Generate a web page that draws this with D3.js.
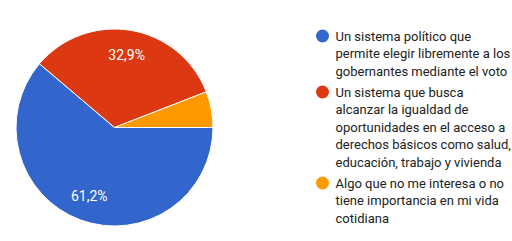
<!DOCTYPE html>
<html>
<head>
<meta charset="utf-8">
<script src="https://cdn.jsdelivr.net/npm/d3@7"></script>
<style>
  body { margin: 0; background: #fff; }
  text { font-family: Roboto, Arial, sans-serif; }
</style>
</head>
<body>
<div id="chart"></div>
<script>
  const labels = [
    ["Un sistema político que", "permite elegir libremente a los", "gobernantes mediante el voto"],
    ["Un sistema que busca", "alcanzar la igualdad de", "oportunidades en el acceso a", "derechos básicos como salud,", "educación, trabajo y vivienda"],
    ["Algo que no me interesa o no", "tiene importancia en mi vida", "cotidiana"]
  ];
  const values = [61.2, 32.9, 5.9];
  const colors = ["#3366cc", "#dc3912", "#ff9900"];

  const width = 512, height = 241;
  const cx = 114.5, cy = 127.5, radius = 98.5;

  const svg = d3.select("#chart")
    .append("svg")
    .attr("width", width)
    .attr("height", height);

  const pie = d3.pie()
    .sort(null)
    .startAngle(Math.PI / 2)
    .endAngle(Math.PI / 2 + Math.PI * 2)
    .value(d => d);

  const arc = d3.arc().innerRadius(0).outerRadius(radius);
  const labelArc = d3.arc().innerRadius(radius * 0.745).outerRadius(radius * 0.745);

  const g = svg.append("g").attr("transform", `translate(${cx},${cy})`);
  const arcs = pie(values);

  g.selectAll("path")
    .data(arcs)
    .enter()
    .append("path")
    .attr("d", arc)
    .attr("fill", (d, i) => colors[i])
    .attr("stroke", "#fff")
    .attr("stroke-width", 1);

  // percent labels, skip the small slice
  g.selectAll("text.pct")
    .data(arcs.filter(d => d.value > 10))
    .enter()
    .append("text")
    .attr("class", "pct")
    .attr("transform", d => `translate(${labelArc.centroid(d)})`)
    .attr("text-anchor", "middle")
    .attr("dy", "0.35em")
    .attr("fill", "#fff")
    .style("font-size", "14px")
    .text(d => d.value.toFixed(1).replace(".", ",") + "%");

  // legend
  const lineH = 17.5, gap = 3.5;
  let y = 36;
  labels.forEach((lines, i) => {
    svg.append("circle")
      .attr("cx", 322.5)
      .attr("cy", y)
      .attr("r", 6.5)
      .attr("fill", colors[i]);
    const t = svg.append("text")
      .attr("x", 335.5)
      .attr("y", y)
      .attr("fill", "#222")
      .style("font-size", "13px");
    lines.forEach((ln, j) => {
      t.append("tspan")
        .attr("x", 335.5)
        .attr("y", y + j * lineH)
        .attr("dy", "0.35em")
        .text(ln);
    });
    y += lines.length * lineH + gap;
  });
</script>
</body>
</html>
